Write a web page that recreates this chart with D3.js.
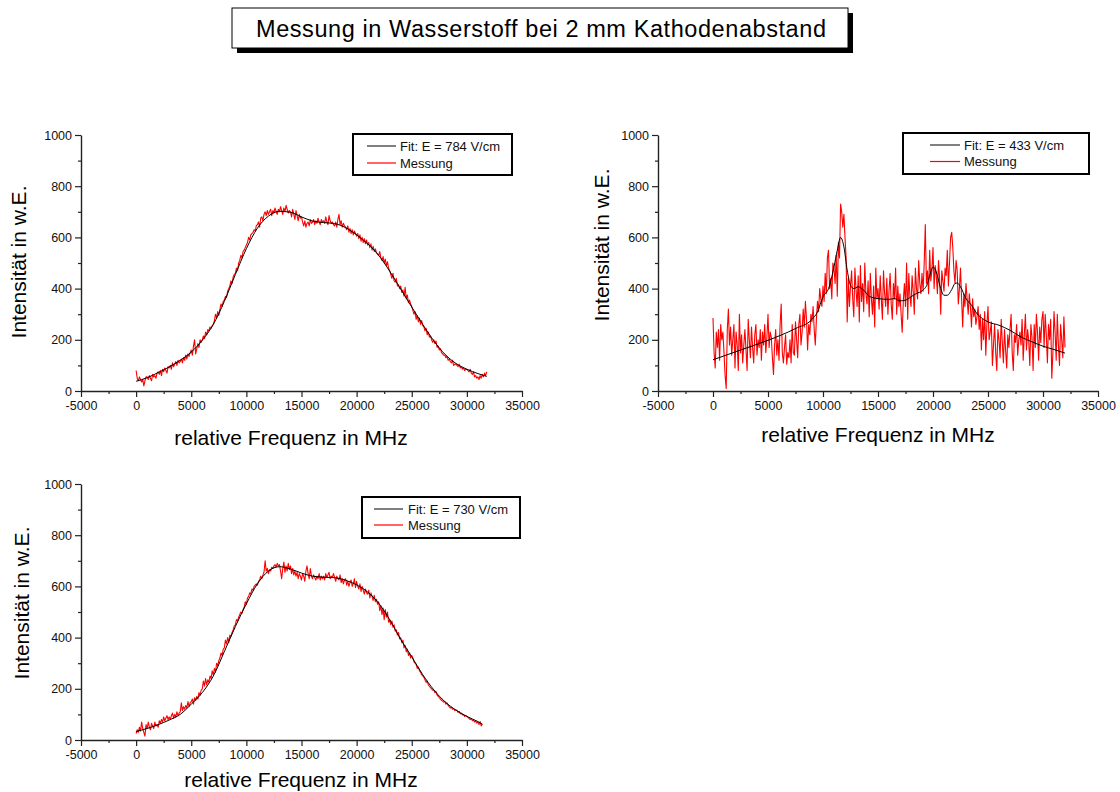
<!DOCTYPE html>
<html><head><meta charset="utf-8">
<script src="https://cdn.jsdelivr.net/npm/d3@7"></script>
<style>
html,body{margin:0;padding:0;background:#fff;}
svg{display:block;font-family:"Liberation Sans",Arial,sans-serif;}
</style></head>
<body>
<svg id="chart" width="1120" height="792"></svg>
<script>
// ---------- DATA ----------
const titleText = "Messung in Wasserstoff bei 2 mm Kathodenabstand";
const xLabel = "relative Frequenz in MHz";
const yLabel = "Intensität in w.E.";
const xTicks = [-5000, 0, 5000, 10000, 15000, 20000, 25000, 30000, 35000];
const yTicks = [0, 200, 400, 600, 800, 1000];
const legendFit = ["Fit: E = 784 V/cm", "Fit: E = 433 V/cm", "Fit: E = 730 V/cm"];
const legendMess = "Messung";
const messStep = 100; // MHz between measured points (start at 0)

// Panel 1 (784 V/cm)
const mess1 = [
80,50,40,55,45,35,45,20,40,55,
55,45,60,50,40,65,55,60,50,70,
75,65,80,60,85,75,90,80,70,95,
90,100,85,110,95,105,115,100,120,110,
115,125,110,130,120,140,125,145,135,150,
160,140,175,200,145,165,185,170,200,190,
200,215,205,230,220,240,235,250,245,255,
260,275,300,285,310,295,320,340,330,350,
355,370,365,390,400,410,430,420,445,455,
460,480,470,500,510,530,520,545,550,560,
570,580,600,590,610,615,620,630,625,645,
650,660,640,675,680,665,690,700,685,705,
690,700,710,685,705,695,715,700,690,710,
700,720,705,690,715,700,725,710,695,705,
700,680,710,690,670,705,685,665,690,675,
680,660,645,665,640,655,660,645,670,655,
660,670,650,665,655,675,660,650,670,660,
665,655,680,660,650,685,665,655,660,650,
645,660,640,670,690,650,665,640,655,645,
640,630,645,620,635,615,630,610,625,615,
605,615,595,610,585,600,580,595,575,590,
570,580,560,575,550,565,545,555,540,535,
530,545,520,510,525,500,515,490,505,480,
470,455,440,460,430,425,440,410,415,400,
410,385,395,370,405,360,375,345,355,340,
330,315,300,310,280,295,270,285,260,275,
255,250,235,245,220,230,210,215,200,190,
200,185,195,170,175,160,165,150,145,140,
140,130,135,120,125,115,110,120,100,105,
105,100,95,105,90,95,85,90,80,85,
85,80,75,85,70,65,75,55,60,50,
55,45,60,50,65,55,70,60,75];
const fit1X = [0,1000,2000,3000,4000,5000,6000,7000,8000,9000,10000,11000,12000,13000,14000,15000,16000,17000,18000,19000,20000,21000,22000,23000,24000,25000,26000,27000,28000,29000,30000,31000,31800];
const fit1Y = [38,52,72,94,120,152,198,260,350,455,556,636,683,702,698,680,664,658,654,638,610,575,530,468,398,328,260,196,144,108,85,68,57];

// Panel 2 (433 V/cm)
const mess2 = [
285,150,90,230,170,240,120,260,200,230,
150,60,10,240,320,180,250,140,200,260,
90,230,180,80,300,150,220,110,180,240,
160,80,280,200,130,250,170,110,220,260,
140,200,170,240,120,230,180,260,150,210,
300,170,230,210,130,65,180,240,140,200,
120,260,340,150,110,170,220,105,150,130,
200,110,260,150,140,270,200,130,260,300,
180,230,320,250,350,280,160,260,220,300,
270,330,240,180,280,350,310,400,360,330,
410,350,460,380,520,550,400,440,360,500,
480,420,530,370,580,520,730,700,640,690,
600,520,270,440,330,410,470,360,290,480,
400,330,450,270,490,350,420,310,500,380,
340,430,290,460,360,300,410,250,480,360,
400,320,450,360,280,470,380,330,440,300,
390,460,340,280,420,360,480,300,410,330,
380,300,230,350,420,330,500,280,460,370,
330,450,390,300,480,400,360,510,420,380,
460,390,500,650,420,470,380,550,430,470,
560,400,490,450,380,510,440,300,470,430,
390,480,450,550,410,500,600,620,560,470,
420,510,470,340,400,480,360,250,380,330,
420,360,300,380,330,250,360,290,320,260,
290,330,240,300,160,280,200,310,140,260,
330,200,230,270,100,180,260,150,80,240,
200,130,280,190,110,240,160,90,220,170,
240,300,150,80,220,190,260,140,200,230,
180,280,120,220,300,160,240,200,100,260,
210,80,260,170,300,230,120,250,190,280,
310,170,300,220,110,260,200,280,50,150,
310,230,120,300,180,100,260,200,130,290,
170];
const fit2X = [0,2500,5000,7500,9000,9500,10000,10500,11000,11300,11600,11900,12200,12500,12800,13200,13700,14200,15000,16000,16500,17000,17500,18000,18500,19000,19500,19800,20000,20300,20700,21000,21300,21700,22000,22200,22500,23000,23500,24000,24500,25000,26000,27000,28000,29000,30000,31000,32000];
const fit2Y = [122,160,198,244,280,309,368,400,485,550,600,563,472,413,400,407,394,370,361,358,361,352,355,368,381,391,420,465,485,465,400,374,374,396,420,422,407,361,335,302,283,270,257,237,211,192,175,162,148];

// Panel 3 (730 V/cm)
const mess3 = [
25,40,30,50,35,70,45,30,15,60,
45,70,50,40,65,55,45,70,55,60,
50,75,65,80,70,90,75,85,95,80,
90,80,95,105,85,100,90,110,95,105,
110,145,115,130,120,135,125,150,130,145,
150,160,140,165,155,170,160,185,175,195,
200,230,210,240,215,235,225,250,240,270,
255,280,265,300,290,310,320,340,330,355,
360,390,375,400,380,410,405,420,430,445,
450,470,465,480,490,500,495,510,520,540,
530,555,560,575,570,590,585,600,605,610,
605,620,625,640,630,645,655,700,660,670,
650,665,660,675,670,680,685,675,690,680,
685,660,630,670,695,655,680,660,690,665,
680,650,670,645,660,640,655,630,650,640,
625,650,640,620,660,680,650,630,670,640,
630,645,635,625,640,630,650,625,640,630,
640,625,650,635,645,655,630,640,635,650,
635,620,640,630,625,645,615,630,610,625,
630,605,620,600,615,625,600,610,630,595,
620,600,590,610,580,600,585,570,590,575,
570,585,555,575,560,545,565,540,550,530,
540,505,525,490,515,470,510,480,500,460,
470,450,465,440,450,425,430,410,420,395,
400,380,390,360,370,345,355,330,340,320,
330,320,305,300,295,280,285,270,265,255,
250,245,235,225,230,215,210,205,200,195,
195,185,190,175,170,165,160,155,152,148,
150,140,145,135,130,125,128,120,122,115,
118,115,108,112,102,105,98,100,92,96,
92,88,85,80,84,75,78,70,74,66,
70,60,72,55,62];
const fit3X = [0,1000,2000,3000,4000,5000,6000,7000,8000,9000,10000,11000,12000,13000,14000,15000,16000,17000,18000,19000,20000,21000,22000,23000,24000,25000,26000,27000,28000,29000,30000,31000,31400];
const fit3Y = [33,45,60,78,100,140,185,250,345,443,532,610,660,677,668,652,640,636,634,624,606,578,534,470,393,325,255,196,150,117,92,72,62];

// ---------- DRAWING ----------
const svg = d3.select("#chart");

// Title box with shadow
const tb = {x: 232, y: 8, w: 616, h: 40};
svg.append("rect").attr("x", tb.x + 5).attr("y", tb.y + 5).attr("width", tb.w).attr("height", tb.h).attr("fill", "#000");
svg.append("rect").attr("x", tb.x).attr("y", tb.y).attr("width", tb.w).attr("height", tb.h).attr("fill", "#fff").attr("stroke", "#000").attr("stroke-width", 1);
svg.append("text").attr("x", 541).attr("y", 37).attr("text-anchor", "middle").attr("font-size", 23.5)
  .attr("textLength", 570).attr("lengthAdjust", "spacing").attr("fill", "#000").text(titleText);

const panels = [
  {x0: 81, x1: 522, yb: 391, yt: 135, mess: mess1, fx: fit1X, fy: fit1Y, fit: legendFit[0],
   leg: {x: 353, y: 134, w: 159, h: 41, lx0: 367, lx1: 396, tx: 400, r1: 146, r2: 163},
   ylab: [26, 262], xlab: [291, 445]},
  {x0: 658, x1: 1098, yb: 391, yt: 135, mess: mess2, fx: fit2X, fy: fit2Y, fit: legendFit[1],
   leg: {x: 903, y: 133, w: 186, h: 41, lx0: 930, lx1: 960, tx: 964, r1: 145, r2: 161.5},
   ylab: [609, 245], xlab: [878, 442]},
  {x0: 81, x1: 522, yb: 740, yt: 484, mess: mess3, fx: fit3X, fy: fit3Y, fit: legendFit[2],
   leg: {x: 362, y: 497, w: 158, h: 41, lx0: 374, lx1: 403, tx: 408, r1: 509, r2: 525},
   ylab: [29, 603], xlab: [301, 787]}
];

const minorX = d3.range(-2500, 35000, 5000);
const minorY = d3.range(100, 1000, 200);

panels.forEach(p => {
  const x = d3.scaleLinear().domain([-5000, 35000]).range([p.x0, p.x1]);
  const y = d3.scaleLinear().domain([0, 1000]).range([p.yb, p.yt]);
  const g = svg.append("g");

  // minor ticks
  g.append("g").attr("transform", `translate(0,${p.yb})`)
    .call(d3.axisBottom(x).tickValues(minorX).tickSize(3).tickSizeOuter(0).tickFormat(""))
    .call(a => a.select(".domain").remove())
    .call(a => a.selectAll("line").attr("stroke", "#222").attr("stroke-width", 1.2));
  g.append("g").attr("transform", `translate(${p.x0},0)`)
    .call(d3.axisLeft(y).tickValues(minorY).tickSize(3).tickSizeOuter(0).tickFormat(""))
    .call(a => a.select(".domain").remove())
    .call(a => a.selectAll("line").attr("stroke", "#222").attr("stroke-width", 1.2));

  // major axes
  const ax = g.append("g").attr("transform", `translate(0,${p.yb})`)
    .call(d3.axisBottom(x).tickValues(xTicks).tickSize(6).tickSizeOuter(0).tickPadding(4).tickFormat(d => String(d)));
  const ay = g.append("g").attr("transform", `translate(${p.x0},0)`)
    .call(d3.axisLeft(y).tickValues(yTicks).tickSize(6).tickSizeOuter(0).tickPadding(3).tickFormat(d => String(d)));
  [ax, ay].forEach(a => {
    a.select(".domain").attr("stroke", "#222").attr("stroke-width", 1.4);
    a.selectAll("line").attr("stroke", "#222").attr("stroke-width", 1.2);
    a.selectAll("text").attr("font-size", 12.5).attr("fill", "#111")
      .attr("font-family", "'Liberation Sans', Arial, sans-serif");
  });

  // measured data
  const messData = p.mess.map((v, i) => [i * messStep, v]);
  g.append("path").datum(messData)
    .attr("fill", "none").attr("stroke", "#ff0000").attr("stroke-width", 1.1).attr("stroke-linejoin", "round")
    .attr("d", d3.line().x(d => x(d[0])).y(d => y(d[1])));

  // fit
  const fitData = p.fx.map((fx, i) => [fx, p.fy[i]]);
  g.append("path").datum(fitData)
    .attr("fill", "none").attr("stroke", "#000").attr("stroke-width", 1)
    .attr("d", d3.line().curve(d3.curveMonotoneX).x(d => x(d[0])).y(d => y(d[1])));

  // legend
  const L = p.leg;
  g.append("rect").attr("x", L.x).attr("y", L.y).attr("width", L.w).attr("height", L.h)
    .attr("fill", "#fff").attr("stroke", "#000").attr("stroke-width", 2);
  g.append("line").attr("x1", L.lx0).attr("x2", L.lx1).attr("y1", L.r1).attr("y2", L.r1).attr("stroke", "#000").attr("stroke-width", 1);
  g.append("line").attr("x1", L.lx0).attr("x2", L.lx1).attr("y1", L.r2).attr("y2", L.r2).attr("stroke", "#ff0000").attr("stroke-width", 1.2);
  g.append("text").attr("x", L.tx).attr("y", L.r1 + 4.7).attr("font-size", 13).attr("fill", "#111").text(p.fit);
  g.append("text").attr("x", L.tx).attr("y", L.r2 + 4.7).attr("font-size", 13).attr("fill", "#111").text(legendMess);

  // axis titles
  g.append("text").attr("transform", `translate(${p.ylab[0]},${p.ylab[1]}) rotate(-90)`)
    .attr("text-anchor", "middle").attr("font-size", 21).attr("fill", "#000").text(yLabel);
  g.append("text").attr("x", p.xlab[0]).attr("y", p.xlab[1])
    .attr("text-anchor", "middle").attr("font-size", 21).attr("fill", "#000").text(xLabel);
});
</script>
</body></html>
